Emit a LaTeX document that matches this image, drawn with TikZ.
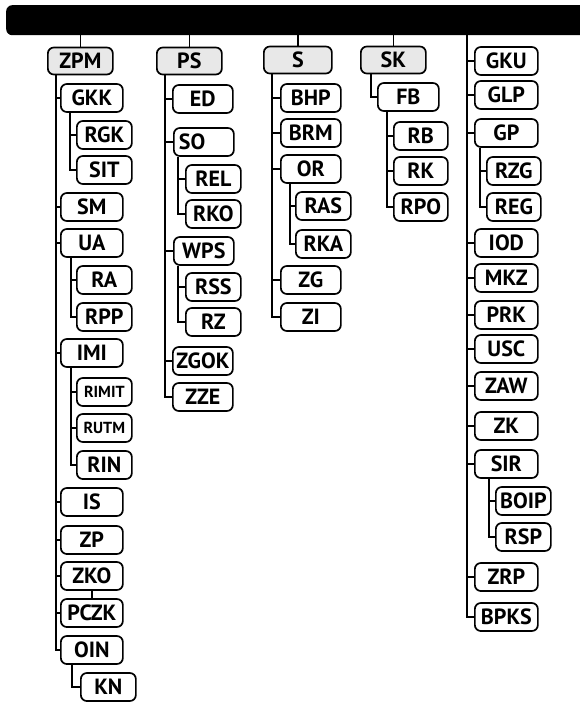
\documentclass[tikz,border=0pt]{standalone}
\usepackage{fontspec}
\setmainfont{PT Sans}

\tikzset{
  bar/.style={fill=black, rounded corners=6pt, anchor=north west, minimum width=590pt, minimum height=30pt, inner sep=0pt},
  box/.style={draw, line width=1.7pt, rounded corners=6pt, fill=white, minimum height=28pt, inner sep=0pt, anchor=west, font=\fontsize{22}{25}\selectfont\bfseries},
  head/.style={box, fill=black!9, minimum width=65pt, minimum height=27pt},
  sub/.style={box, minimum width=62pt},
  subsub/.style={box, minimum width=55pt},
  tiny/.style={font=\fontsize{16}{18}\selectfont\bfseries},
  link/.style={line width=1.4pt}
}

\begin{document}
\begin{tikzpicture}[x=1pt,y=-1pt]
  \useasboundingbox (0,0) rectangle (580,703);
  \node[bar] (bar) at (6,5) {};

  % column ZPM
  \node[head]    (ZPM)   at (47,61)  {ZPM};
  \node[sub]     (GKK)   at (60,98)  {GKK};
  \node[subsub]  (RGK)   at (76,135) {RGK};
  \node[subsub]  (SIT)   at (76,170) {SIT};
  \node[sub]     (SM)    at (60,207) {SM};
  \node[sub]     (UA)    at (60,243) {UA};
  \node[subsub]  (RA)    at (76,280) {RA};
  \node[subsub]  (RPP)   at (76,317) {RPP};
  \node[sub]     (IMI)   at (60,353) {IMI};
  \node[subsub,tiny] (RIMIT) at (76,392) {RIMIT};
  \node[subsub,tiny] (RUTM)  at (76,428) {RUTM};
  \node[subsub]  (RIN)   at (76,465) {RIN};
  \node[sub]     (IS)    at (60,502) {IS};
  \node[sub]     (ZP)    at (60,540) {ZP};
  \node[sub]     (ZKO)   at (60,576) {ZKO};
  \node[sub]     (PCZK)  at (60,613) {PCZK};
  \node[sub]     (OIN)   at (60,650) {OIN};
  \node[subsub]  (KN)    at (80,687) {KN};

  % column PS
  \node[head]    (PS)    at (156,61) {PS};
  \node[sub, minimum width=60pt] (ED) at (172,99) {ED};
  \node[sub, minimum width=60pt, text width=50pt, align=left] (SO) at (173,142) {SO};
  \node[subsub]  (REL)   at (185,179) {REL};
  \node[subsub]  (RKO)   at (185,214) {RKO};
  \node[sub, minimum width=60pt] (WPS) at (173,251) {WPS};
  \node[subsub]  (RSS)   at (185,287) {RSS};
  \node[subsub]  (RZ)    at (185,322) {RZ};
  \node[sub, minimum width=60pt] (ZGOK) at (172,361) {ZGOK};
  \node[sub, minimum width=60pt] (ZZE)  at (172,397) {ZZE};

  % column S
  \node[head, minimum width=68pt] (S) at (263,60) {S};
  \node[sub, minimum width=60pt] (BHP) at (280,98)  {BHP};
  \node[sub, minimum width=60pt] (BRM) at (280,133) {BRM};
  \node[sub, minimum width=60pt] (OR)  at (280,169) {OR};
  \node[subsub]  (RAS)   at (295,206) {RAS};
  \node[subsub]  (RKA)   at (295,244) {RKA};
  \node[sub, minimum width=60pt] (ZG)  at (280,280) {ZG};
  \node[sub, minimum width=60pt] (ZI)  at (280,317) {ZI};

  % column SK
  \node[head]    (SK)    at (360,60)  {SK};
  \node[sub, minimum width=61pt] (FB) at (377,97) {FB};
  \node[subsub, minimum width=54pt] (RB)  at (393,136) {RB};
  \node[subsub, minimum width=54pt] (RK)  at (393,171) {RK};
  \node[subsub, minimum width=54pt] (RPO) at (393,207) {RPO};

  % column without head
  \coordinate (top) at (467,35);
  \node[sub, minimum width=63pt] (GKU)  at (474,61)  {GKU};
  \node[sub, minimum width=63pt] (GLP)  at (474,95)  {GLP};
  \node[sub, minimum width=63pt] (GP)   at (474,133) {GP};
  \node[subsub, minimum width=54pt] (RZG) at (486,171) {RZG};
  \node[subsub, minimum width=54pt] (REG) at (486,207) {REG};
  \node[sub, minimum width=63pt] (IOD)  at (474,243) {IOD};
  \node[sub, minimum width=63pt] (MKZ)  at (474,278) {MKZ};
  \node[sub, minimum width=63pt] (PRK)  at (474,315) {PRK};
  \node[sub, minimum width=63pt] (USC)  at (474,349) {USC};
  \node[sub, minimum width=63pt] (ZAW)  at (474,386) {ZAW};
  \node[sub, minimum width=63pt] (ZK)   at (474,426) {ZK};
  \node[sub, minimum width=63pt] (SIR)  at (474,464) {SIR};
  \node[subsub]  (BOIP)  at (495,501) {BOIP};
  \node[subsub]  (RSP)   at (495,537) {RSP};
  \node[sub, minimum width=63pt] (ZRP)  at (474,577) {ZRP};
  \node[sub, minimum width=63pt] (BPKS) at (474,617) {BPKS};

  % heads hang from the bar
  \foreach \h in {ZPM,PS,S,SK}
    \draw[link] (bar.south -| \h.north) -- (\h.north);

  % first level
  \foreach \c in {GKK,SM,UA,IMI,IS,ZP,ZKO,PCZK,OIN}
    \draw[link] ([xshift=9pt]ZPM.south west) |- (\c.west);
  \foreach \c in {ED,SO,WPS,ZGOK,ZZE}
    \draw[link] ([xshift=9pt]PS.south west) |- (\c.west);
  \foreach \c in {BHP,BRM,OR,ZG,ZI}
    \draw[link] ([xshift=9pt]S.south west) |- (\c.west);
  \draw[link] ([xshift=11pt]SK.south west) |- (FB.west);
  \foreach \c in {GKU,GLP,GP,IOD,MKZ,PRK,USC,ZAW,ZK,SIR,ZRP,BPKS}
    \draw[link] (top) |- (\c.west);

  % second level
  \foreach \c in {RGK,SIT}
    \draw[link] ([xshift=10pt]GKK.south west) |- (\c.west);
  \foreach \c in {RA,RPP}
    \draw[link] ([xshift=11pt]UA.south west) |- (\c.west);
  \foreach \c in {RIMIT,RUTM,RIN}
    \draw[link] ([xshift=11pt]IMI.south west) |- (\c.west);
  \draw[link] ([xshift=12pt]OIN.south west) |- (KN.west);
  \draw[link] (ZKO.south) -- (PCZK.north);
  \foreach \c in {REL,RKO}
    \draw[link] ([xshift=5pt]SO.south west) |- (\c.west);
  \foreach \c in {RSS,RZ}
    \draw[link] ([xshift=5pt]WPS.south west) |- (\c.west);
  \foreach \c in {RAS,RKA}
    \draw[link] ([xshift=10pt]OR.south west) |- (\c.west);
  \foreach \c in {RB,RK,RPO}
    \draw[link] ([xshift=10pt]FB.south west) |- (\c.west);
  \foreach \c in {RZG,REG}
    \draw[link] ([xshift=6pt]GP.south west) |- (\c.west);
  \foreach \c in {BOIP,RSP}
    \draw[link] ([xshift=15pt]SIR.south west) |- (\c.west);
\end{tikzpicture}
\end{document}
